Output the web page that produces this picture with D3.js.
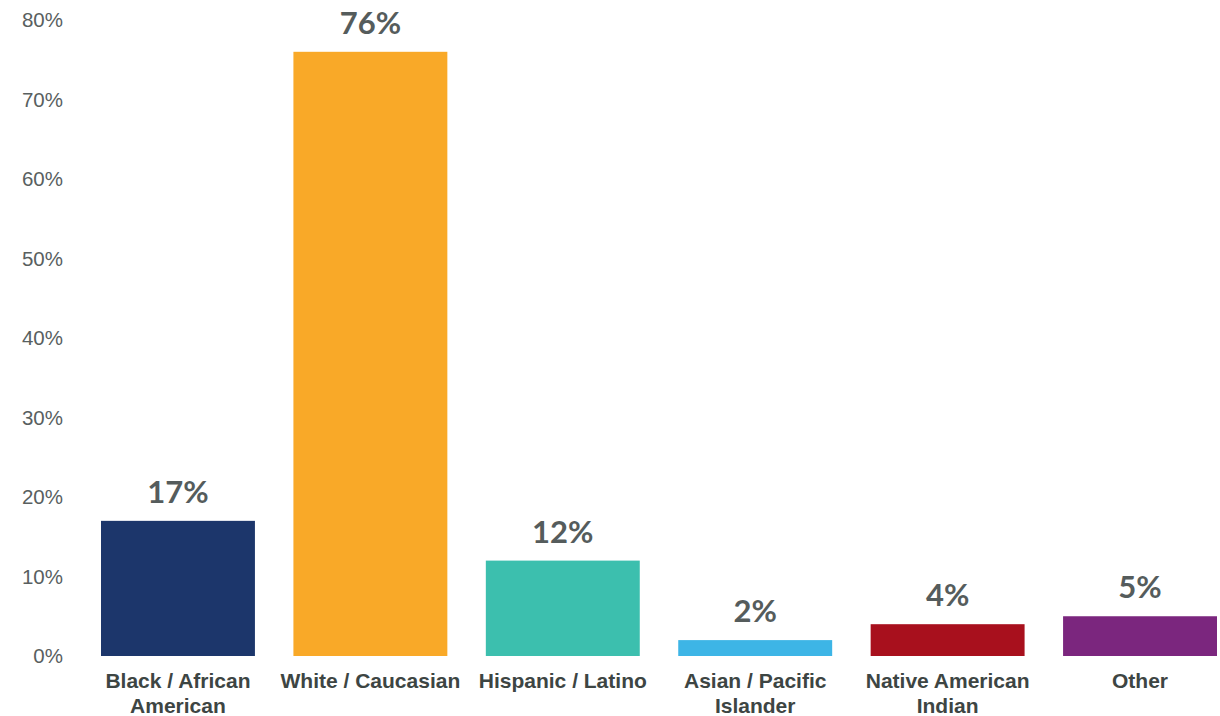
<!DOCTYPE html>
<html>
<head>
<meta charset="utf-8">
<script src="https://cdn.jsdelivr.net/npm/d3@7"></script>
<style>
  body { margin: 0; background: #fff; }
  svg { display: block; }
</style>
</head>
<body>
<div id="canvas"></div>
<script>
"use strict"

let svgWidth = 1220
let svgHeight = 716

// chart data
let categories = ["Black / African\nAmerican", "White / Caucasian", "Hispanic / Latino", "Asian / Pacific\nIslander", "Native American\nIndian", "Other"]
let values = [17, 76, 12, 2, 4, 5]
let barColors = ["#1c366b", "#f9a928", "#3cbfae", "#3db5e6", "#a8101d", "#7b267e"]
let yTicks = [0, 10, 20, 30, 40, 50, 60, 70, 80]

let data = categories.map(function (c, i) {
    return { name: c, value: values[i], color: barColors[i] }
})

let svg = d3.select("#canvas")
    .append("svg")
    .attr("width", svgWidth)
    .attr("height", svgHeight)

let xScale = d3.scaleBand()
    .domain(categories)
    .range([101, 1217])
    .paddingInner(0.2)
    .paddingOuter(0)

let yScale = d3.scaleLinear()
    .domain([0, 80])
    .range([656, 20])

// y axis: labels only
let yAxis = svg.append("g")
    .attr("transform", "translate(63,0)")
    .call(d3.axisLeft(yScale).tickValues(yTicks).tickSize(0).tickPadding(0).tickFormat(function (d) { return d + "%" }))
yAxis.select(".domain").remove()
yAxis.selectAll("text")
    .attr("fill", "#595f5f")
    .style("font-family", "'Liberation Sans', Arial, sans-serif")
    .style("font-size", "20.5px")

// bars
svg.selectAll("rect.bar")
    .data(data)
    .join("rect")
    .classed("bar", true)
    .attr("x", function (d) { return xScale(d.name) })
    .attr("y", function (d) { return yScale(d.value) })
    .attr("width", xScale.bandwidth())
    .attr("height", function (d) { return yScale(0) - yScale(d.value) })
    .attr("fill", function (d) { return d.color })

// value labels
svg.selectAll("text.value")
    .data(data)
    .join("text")
    .classed("value", true)
    .attr("x", function (d) { return xScale(d.name) + xScale.bandwidth() / 2 })
    .attr("y", function (d) { return yScale(d.value) - 18 })
    .attr("text-anchor", "middle")
    .attr("fill", "#555c5c")
    .style("font-family", "Lato, sans-serif")
    .style("font-weight", "bold")
    .style("font-size", "31px")
    .text(function (d) { return d.value + "%" })

// category labels
let catLabels = svg.selectAll("text.cat")
    .data(data)
    .join("text")
    .classed("cat", true)
    .attr("x", function (d) { return xScale(d.name) + xScale.bandwidth() / 2 })
    .attr("y", 688)
    .attr("text-anchor", "middle")
    .attr("fill", "#3d4543")
    .style("font-family", "'Liberation Sans', Arial, sans-serif")
    .style("font-weight", "bold")
    .style("font-size", "21px")

catLabels.each(function (d) {
    let lines = d.name.split("\n")
    let t = d3.select(this)
    lines.forEach(function (line, i) {
        t.append("tspan")
            .attr("x", xScale(d.name) + xScale.bandwidth() / 2)
            .attr("dy", i == 0 ? 0 : 25)
            .text(line)
    })
})
</script>
</body>
</html>
